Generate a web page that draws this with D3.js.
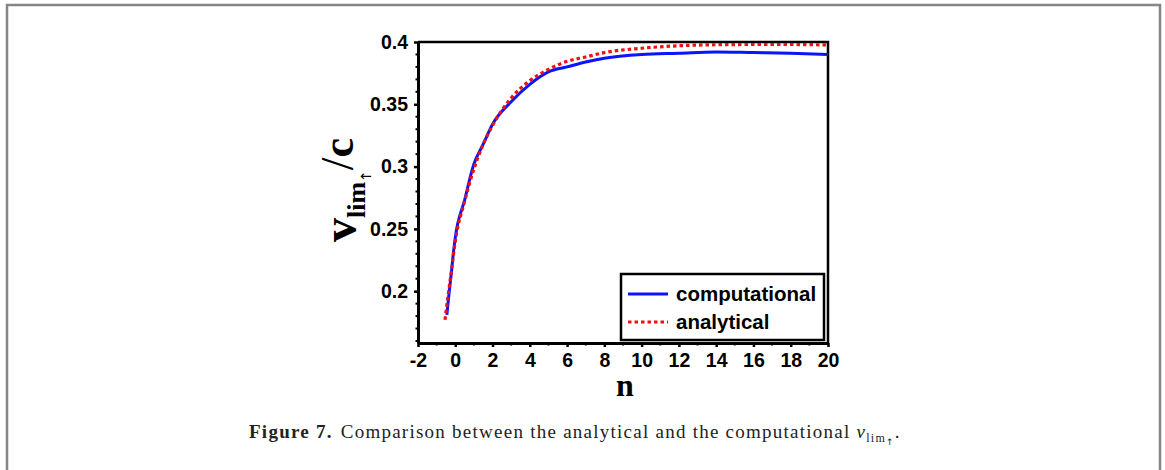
<!DOCTYPE html>
<html>
<head>
<meta charset="utf-8">
<script src="https://cdn.jsdelivr.net/npm/d3@7"></script>
<style>
  html, body { margin: 0; padding: 0; background: #fff; }
  svg { display: block; }
</style>
</head>
<body>
<svg id="chart" width="1165" height="470"></svg>
<script>
// Limiting velocity v_lim↑/c versus n
const nComputational = [-0.45, -0.35, -0.2, -0.1, 0, 0.5, 1, 1.5, 2, 3, 4, 5, 6, 7, 8, 10, 12, 14, 16, 18, 20];
const vComputational = [0.181, 0.196, 0.216, 0.231, 0.243, 0.273, 0.302, 0.318, 0.334, 0.352, 0.366, 0.376, 0.380, 0.384, 0.387, 0.390, 0.391, 0.392, 0.3915, 0.391, 0.390];

const nAnalytical = [-0.55, -0.4, -0.2, -0.1, 0, 0.5, 1, 1.5, 2, 3, 4, 5, 6, 7, 8, 10, 12, 14, 16, 18, 20];
const vAnalytical = [0.177, 0.195, 0.217, 0.229, 0.240, 0.272, 0.298, 0.318, 0.333, 0.355, 0.369, 0.378, 0.3845, 0.388, 0.3915, 0.395, 0.397, 0.3978, 0.398, 0.398, 0.3976];

const xTicks = [-2, 0, 2, 4, 6, 8, 10, 12, 14, 16, 18, 20];
const yTicks = [0.2, 0.25, 0.3, 0.35, 0.4];
const yTickLabels = ["0.2", "0.25", "0.3", "0.35", "0.4"];
const seriesNames = ["computational", "analytical"];

const svg = d3.select("#chart");

// outer figure frame
svg.append("path")
  .attr("d", "M7,470 V5 H1160 V470")
  .attr("fill", "none")
  .attr("stroke", "#858585")
  .attr("stroke-width", 2.5);

const plot = { left: 418, right: 828, top: 42, bottom: 343 };

const x = d3.scaleLinear().domain([-2, 20]).range([plot.left, plot.right]);
const y = d3.scaleLinear().domain([0.1584, 0.4]).range([plot.bottom, plot.top]);

const tickFont = "'Liberation Sans', Arial, sans-serif";

// x axis: major ticks every 2, minor every 1
const xAxis = d3.axisBottom(x).tickValues(xTicks).tickSize(4).tickSizeOuter(0).tickPadding(6)
  .tickFormat(d3.format("d"));
const gx = svg.append("g").attr("transform", `translate(0,${plot.bottom})`).call(xAxis);
gx.select(".domain").attr("stroke", "#000").attr("stroke-width", 3);
gx.selectAll(".tick line").attr("stroke", "#000").attr("stroke-width", 2.5);
gx.selectAll(".tick text")
  .attr("font-family", tickFont).attr("font-weight", "bold").attr("font-size", 19.5).attr("fill", "#000")
  .text(d => d < 0 ? "-" + Math.abs(d) : d);
svg.append("g").attr("transform", `translate(0,${plot.bottom})`)
  .selectAll("line").data(d3.range(-1, 20, 2)).join("line")
  .attr("x1", d => x(d)).attr("x2", d => x(d)).attr("y1", 0).attr("y2", 2.5)
  .attr("stroke", "#000").attr("stroke-width", 2);

// y axis: major ticks every 0.05, minor every 0.01
const yAxis = d3.axisLeft(y).tickValues(yTicks).tickSize(4).tickSizeOuter(0).tickPadding(6)
  .tickFormat((d, i) => yTickLabels[i]);
const gy = svg.append("g").attr("transform", `translate(${plot.left},0)`).call(yAxis);
gy.select(".domain").attr("stroke", "#000").attr("stroke-width", 3);
gy.selectAll(".tick line").attr("stroke", "#000").attr("stroke-width", 2.5);
gy.selectAll(".tick text")
  .attr("font-family", tickFont).attr("font-weight", "bold").attr("font-size", 19.5).attr("fill", "#000");
const yMinor = d3.range(16, 41).map(d => d / 100).filter(d => Math.round(d * 100) % 5 !== 0);
svg.append("g").attr("transform", `translate(${plot.left},0)`)
  .selectAll("line").data(yMinor).join("line")
  .attr("x1", -2.5).attr("x2", 0).attr("y1", d => y(d)).attr("y2", d => y(d))
  .attr("stroke", "#000").attr("stroke-width", 2);

// top and right frame of the plot box
svg.append("path")
  .attr("d", `M${plot.left},${plot.top} H${plot.right} V${plot.bottom}`)
  .attr("fill", "none").attr("stroke", "#000").attr("stroke-width", 2.5);

// curves
const line = d3.line().x(d => x(d[0])).y(d => y(d[1])).curve(d3.curveMonotoneX);
const compData = nComputational.map((n, i) => [n, vComputational[i]]);
const anaData = nAnalytical.map((n, i) => [n, vAnalytical[i]]);

svg.append("path").datum(compData).attr("d", line)
  .attr("fill", "none").attr("stroke", "#0a14ff").attr("stroke-width", 3);
svg.append("path").datum(anaData).attr("d", line)
  .attr("fill", "none").attr("stroke", "#ee1111").attr("stroke-width", 3.2)
  .attr("stroke-dasharray", "3.5,3");

// legend
const lg = svg.append("g");
lg.append("rect").attr("x", 621).attr("y", 274).attr("width", 203).attr("height", 66)
  .attr("fill", "#fff").attr("stroke", "#000").attr("stroke-width", 2.5);
const legendItems = [
  { name: seriesNames[0], color: "#0a14ff", dash: null, yy: 294 },
  { name: seriesNames[1], color: "#ee1111", dash: "3.5,3", yy: 322 }
];
legendItems.forEach(it => {
  lg.append("line").attr("x1", 628).attr("x2", 668).attr("y1", it.yy).attr("y2", it.yy)
    .attr("stroke", it.color).attr("stroke-width", 3)
    .attr("stroke-dasharray", it.dash);
  lg.append("text").attr("x", 676).attr("y", it.yy + 7)
    .attr("font-family", tickFont).attr("font-weight", "bold").attr("font-size", 20.5)
    .attr("fill", "#000").text(it.name);
});

// axis titles
const serif = "'Liberation Serif', 'Times New Roman', serif";
svg.append("text").attr("x", (x(-2) + x(20)) / 2 + 2).attr("y", 396)
  .attr("text-anchor", "middle").attr("font-family", serif).attr("font-weight", "bold")
  .attr("font-size", 32).text("n");

const yl = svg.append("text")
  .attr("transform", "translate(356,242) rotate(-90)")
  .attr("text-anchor", "start").attr("font-family", serif).attr("font-weight", "bold")
  .attr("font-size", 48);
yl.append("tspan").text("v");
yl.append("tspan").attr("font-size", 26).attr("dy", 9).text("lim");
yl.append("tspan").attr("font-size", 14).attr("font-family", "'DejaVu Sans', sans-serif")
  .attr("font-weight", "normal").attr("dy", 6).text("↑");
yl.append("tspan").attr("font-size", 46).attr("font-weight", "normal").attr("dy", -18).text("/");
yl.append("tspan").attr("font-size", 44).text("c");

// caption
const cap = svg.append("text").attr("x", 249).attr("y", 438)
  .attr("font-family", serif).attr("font-size", 19).attr("letter-spacing", 1.25).attr("fill", "#222");
cap.append("tspan").attr("font-weight", "bold").text("Figure 7.");
cap.append("tspan").attr("dx", 8).text("Comparison between the analytical and the computational ");
cap.append("tspan").attr("font-style", "italic").text("v");
cap.append("tspan").attr("font-size", 12).attr("dy", 4).text("lim");
cap.append("tspan").attr("font-size", 9).attr("font-family", "'DejaVu Sans', sans-serif").attr("dy", 3).text("↑");
cap.append("tspan").attr("dy", -7).text(".");
</script>
</body>
</html>
